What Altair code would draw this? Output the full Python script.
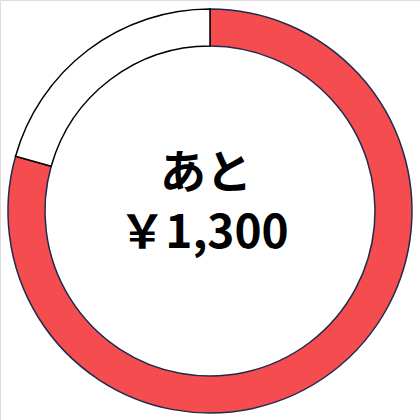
import altair as alt
import pandas as pd

labels = ["使った", "あと"]
amounts = [5000, 1300]
fills = ["#F54C4F", "#FFFFFF"]
strokes = ["#1F2A4D", "#000000"]
order = [0, 1]
line1 = ["あと"]
line2 = ["￥1,300"]

df = pd.DataFrame({"label": labels, "amount": amounts, "fill": fills, "stroke": strokes, "order": order})

arc = alt.Chart(df).mark_arc(outerRadius=202, innerRadius=165, strokeWidth=1.5).encode(
    theta=alt.Theta("amount:Q", stack=True),
    order=alt.Order("order:Q"),
    fill=alt.Fill("fill:N", scale=None),
    stroke=alt.Stroke("stroke:N", scale=None),
    x=alt.value(210),
    y=alt.value(211),
)

t1 = alt.Chart(pd.DataFrame({"t": line1})).mark_text(
    font="Noto Sans CJK JP", fontSize=46, fontWeight="bold", color="#000000", baseline="middle", align="center"
).encode(text="t:N", x=alt.value(206), y=alt.value(174))
t2 = alt.Chart(pd.DataFrame({"t": line2})).mark_text(
    font="Noto Sans CJK JP", fontSize=46, fontWeight="bold", color="#000000", baseline="middle", align="center"
).encode(text="t:N", x=alt.value(204), y=alt.value(234))

chart = alt.layer(arc, t1, t2).properties(
    width=420, height=420, padding=0, autosize=alt.AutoSizeParams(type="none")
).configure_view(stroke=None).configure(background="#FFFFFF")

chart.save("out.html", embed_options={"renderer": "svg", "actions": False})
